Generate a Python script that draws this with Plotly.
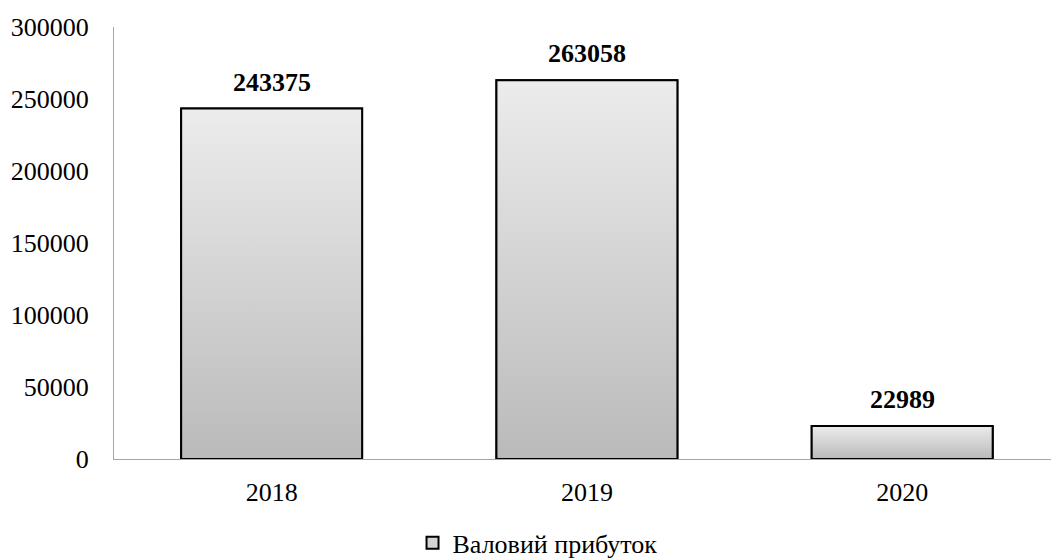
import plotly.graph_objects as go

years = ["2018", "2019", "2020"]
values = [243375, 263058, 22989]
series_name = "Валовий прибуток"
y_ticks = [0, 50000, 100000, 150000, 200000, 250000, 300000]

FONT = "Liberation Serif, Times New Roman, serif"
WIDTH = 0.574  # bar width in category units
HALF = WIDTH / 2

fig = go.Figure()
# Bars carrying the data (and the legend entry)
fig.add_trace(go.Bar(
    x=list(range(len(years))), y=values, width=WIDTH,
    marker=dict(color="#d4d4d4", line=dict(color="#000000", width=2)),
    name=series_name, hoverinfo="skip",
))
# Vertical gradient fill laid over each bar
for i, v in enumerate(values):
    fig.add_trace(go.Scatter(
        x=[i - HALF, i + HALF, i + HALF, i - HALF, i - HALF],
        y=[0, 0, v, v, 0],
        mode="lines",
        fill="toself",
        fillgradient=dict(type="vertical",
                          colorscale=[[0, "#bababa"], [1, "#ececec"]]),
        line=dict(color="#000000", width=2),
        showlegend=False,
        hoverinfo="skip",
    ))
    fig.add_annotation(x=i, y=v, text=f"<b>{v}</b>", showarrow=False,
                       yanchor="bottom", yshift=10,
                       font=dict(family=FONT, size=26, color="#000"))

fig.update_layout(
    width=1051, height=558,
    margin=dict(l=114, r=0, t=27, b=99, autoexpand=False),
    paper_bgcolor="white", plot_bgcolor="white",
    font=dict(family=FONT, size=26, color="#000"),
    showlegend=True,
    legend=dict(orientation="h", x=0.452, xanchor="center", y=-0.194,
                yanchor="middle", font=dict(family=FONT, size=26),
                itemwidth=30),
)
fig.update_xaxes(range=[-0.5, 2.472], tickvals=list(range(len(years))),
                 ticktext=years, showgrid=False, zeroline=False,
                 showline=True, linecolor="#a6a6a6", linewidth=1,
                 ticks="", ticklabelstandoff=10, automargin=False)
fig.update_yaxes(range=[0, 300000], tickvals=y_ticks,
                 ticktext=[str(t) for t in y_ticks], showgrid=False,
                 zeroline=False, showline=True, linecolor="#a6a6a6",
                 linewidth=1, ticks="", ticklabelstandoff=19,
                 automargin=False)

fig.write_html("out.html",
               config={"displayModeBar": False},
               post_script="document.body.style.margin='0';"
                           "document.body.style.overflow='hidden';")
